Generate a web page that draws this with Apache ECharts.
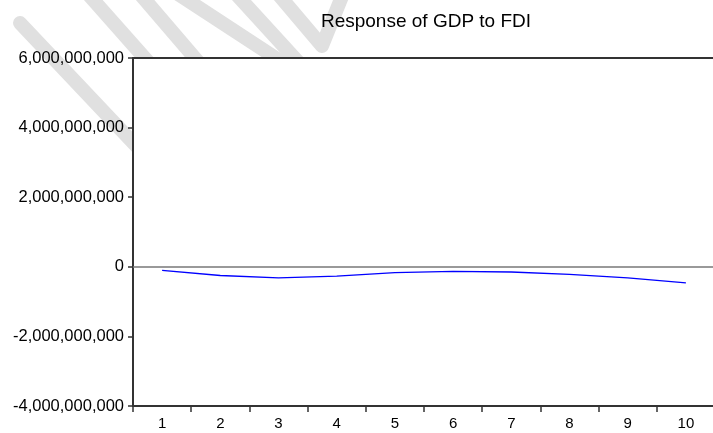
<!DOCTYPE html>
<html>
<head>
<meta charset="utf-8">
<script src="https://cdn.jsdelivr.net/npm/echarts@6/dist/echarts.min.js"></script>
<style>
  html, body { margin: 0; padding: 0; background: #fff; overflow: hidden; }
  /* the plot frame runs just past the right edge of the window */
  #chart { width: 715px; height: 433px; }
</style>
</head>
<body>
<div id="chart"></div>
<script>
// Impulse response: GDP to an FDI shock, periods 1-10
const periods = ['1', '2', '3', '4', '5', '6', '7', '8', '9', '10'];
const gdpResponse = [-1.0e8, -2.5e8, -3.2e8, -2.7e8, -1.7e8, -1.3e8, -1.5e8, -2.2e8, -3.2e8, -4.6e8];
const yTicks = { min: -4e9, max: 6e9, step: 2e9 };
const chartTitle = 'Response of GDP to FDI';

const FONT = '"Liberation Sans", Arial, sans-serif';
const AXIS = '#333333';

// light grey brush strokes behind the chart area
const strokePaths = [
  [[20, 23], [140, 150]],
  [[88, -6], [150, 64]],
  [[140, -6], [200, 64]],
  [[178, -6], [285, 64]],
  [[236, -6], [300, 64]],
  [[278, -6], [322, 46], [343, -6]]
];

const chart = echarts.init(document.getElementById('chart'), null, { renderer: 'canvas' });
chart.setOption({
  animation: false,
  backgroundColor: '#ffffff',
  graphic: strokePaths.map(pts => ({
    type: 'polyline',
    z: -10,
    silent: true,
    shape: { points: pts },
    style: { stroke: '#e0e0e0', lineWidth: 14, lineCap: 'round', lineJoin: 'round', fill: null }
  })),
  title: {
    text: chartTitle,
    left: 421,
    textAlign: 'center',
    top: 7,
    textStyle: { fontFamily: FONT, fontSize: 19, fontWeight: 'normal', color: '#000' }
  },
  grid: {
    left: 133, top: 58, right: 0, bottom: 27,
    show: true, backgroundColor: '#ffffff', borderWidth: 0,
    containLabel: false
  },
  xAxis: [{
    type: 'category',
    data: periods,
    boundaryGap: true,
    axisLine: { show: true, onZero: false, lineStyle: { color: AXIS, width: 2 } },
    axisTick: { show: true, inside: false, length: 6, alignWithLabel: false, lineStyle: { color: AXIS, width: 1.5 } },
    axisLabel: { fontFamily: FONT, fontSize: 15, color: '#000', margin: 10 },
    splitLine: { show: false }
  }, {
    // top frame line of the plot
    type: 'category',
    position: 'top',
    data: periods,
    axisLine: { show: true, onZero: false, lineStyle: { color: AXIS, width: 2 } },
    axisTick: { show: false },
    axisLabel: { show: false },
    splitLine: { show: false }
  }],
  yAxis: {
    type: 'value',
    min: yTicks.min, max: yTicks.max, interval: yTicks.step,
    axisLine: { show: true, onZero: false, lineStyle: { color: AXIS, width: 2 } },
    axisTick: { show: true, inside: false, length: 5, lineStyle: { color: AXIS, width: 1.5 } },
    axisLabel: {
      fontFamily: FONT, fontSize: 16.5, color: '#000', margin: 9,
      formatter: v => Math.round(v).toLocaleString('en-US')
    },
    splitLine: { show: false }
  },
  series: [{
    type: 'line',
    data: gdpResponse,
    symbol: 'none',
    smooth: false,
    lineStyle: { color: '#0000ff', width: 1.3 },
    markLine: {
      silent: true,
      symbol: 'none',
      label: { show: false },
      lineStyle: { color: '#777777', width: 1.5, type: 'solid' },
      data: [{ yAxis: 0 }]
    }
  }]
});
</script>
</body>
</html>
